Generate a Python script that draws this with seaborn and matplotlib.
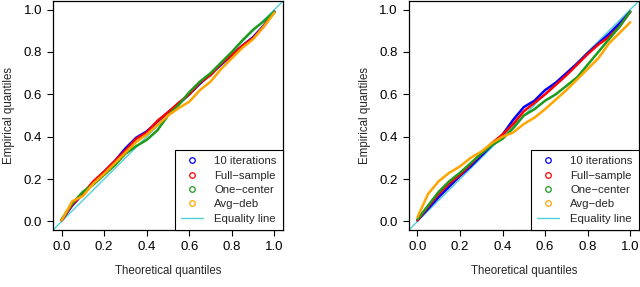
import matplotlib
matplotlib.use("Agg")
import matplotlib.pyplot as plt
import seaborn as sns
import pandas as pd
from matplotlib.lines import Line2D

# theoretical quantiles
theo = [0.0, 0.05, 0.1, 0.15, 0.2, 0.25, 0.3, 0.35, 0.4, 0.45, 0.5,
        0.55, 0.6, 0.65, 0.7, 0.75, 0.8, 0.85, 0.9, 0.95, 1.0]

# left panel empirical quantiles
left_iter = [0.005, 0.075, 0.13, 0.185, 0.235, 0.285, 0.345, 0.395, 0.425, 0.47, 0.515,
             0.555, 0.6, 0.65, 0.695, 0.74, 0.785, 0.83, 0.87, 0.925, 0.99]
left_full = [0.005, 0.08, 0.13, 0.19, 0.235, 0.285, 0.335, 0.39, 0.42, 0.475, 0.515,
             0.56, 0.6, 0.655, 0.69, 0.745, 0.785, 0.83, 0.865, 0.92, 0.99]
left_one = [0.01, 0.085, 0.14, 0.175, 0.22, 0.265, 0.32, 0.355, 0.385, 0.43, 0.5,
            0.55, 0.61, 0.66, 0.7, 0.75, 0.8, 0.855, 0.905, 0.945, 0.99]
left_avg = [0.005, 0.095, 0.12, 0.18, 0.225, 0.275, 0.325, 0.375, 0.41, 0.455, 0.5,
            0.535, 0.565, 0.62, 0.66, 0.72, 0.77, 0.82, 0.86, 0.92, 0.985]

# right panel empirical quantiles
right_iter = [0.005, 0.06, 0.115, 0.165, 0.215, 0.26, 0.31, 0.36, 0.41, 0.48, 0.54,
              0.57, 0.62, 0.655, 0.7, 0.745, 0.795, 0.84, 0.885, 0.935, 0.99]
right_full = [0.005, 0.07, 0.13, 0.18, 0.22, 0.27, 0.32, 0.37, 0.41, 0.46, 0.52,
              0.56, 0.6, 0.645, 0.69, 0.74, 0.79, 0.835, 0.87, 0.92, 0.99]
right_one = [0.01, 0.075, 0.14, 0.19, 0.23, 0.275, 0.32, 0.36, 0.39, 0.44, 0.5,
             0.53, 0.57, 0.6, 0.64, 0.68, 0.74, 0.8, 0.86, 0.92, 0.99]
right_avg = [0.02, 0.13, 0.19, 0.23, 0.26, 0.3, 0.33, 0.37, 0.4, 0.42, 0.46,
             0.49, 0.53, 0.575, 0.62, 0.67, 0.72, 0.77, 0.84, 0.89, 0.94]

labels = ["10 iterations", "Full\u2212sample", "One\u2212center", "Avg\u2212deb"]
colors = ["#0000ff", "#ff0000", "#1e9a1e", "#ffa500"]
eq_color = "#4fd0d8"

sns.set_style("white")
plt.rcParams["font.family"] = ["Liberation Sans", "DejaVu Sans"]

fig = plt.figure(figsize=(6.4, 2.87), dpi=100)
ax1 = fig.add_axes([0.083, 0.199, 0.359, 0.797])
ax2 = fig.add_axes([0.639, 0.199, 0.359, 0.797])

panels = [(ax1, [left_iter, left_full, left_one, left_avg]),
          (ax2, [right_iter, right_full, right_one, right_avg])]

ticks = [0.0, 0.2, 0.4, 0.6, 0.8, 1.0]
for ax, series in panels:
    frames = []
    for lab, vals in zip(labels, series):
        frames.append(pd.DataFrame({"theo": theo, "emp": vals, "method": lab}))
    df = pd.concat(frames)
    ax.axline((0, 0), slope=1, color=eq_color, lw=1.0, zorder=1)
    sns.lineplot(data=df, x="theo", y="emp", hue="method", palette=colors,
                 lw=1.8, ax=ax, legend=False, zorder=2)
    ax.set_xlim(-0.04, 1.04)
    ax.set_ylim(-0.04, 1.04)
    ax.set_xticks(ticks)
    ax.set_yticks(ticks)
    ax.set_xticklabels(["%.1f" % t for t in ticks])
    ax.set_yticklabels(["%.1f" % t for t in ticks])
    ax.tick_params(direction="out", length=4, width=0.8, labelsize=9.5,
                   bottom=True, left=True, pad=4, colors="black")
    for sp in ax.spines.values():
        sp.set_color("black")
        sp.set_linewidth(0.9)
    ax.set_xlabel("Theoretical quantiles", fontsize=8.3, labelpad=9)
    ax.set_ylabel("Empirical quantiles", fontsize=8.3, labelpad=6)

    handles = [Line2D([], [], ls="none", marker="o", mfc="none", mec=c,
                      ms=4, mew=0.9) for c in colors]
    handles.append(Line2D([], [], color=eq_color, lw=1.0))
    ax.legend(handles, labels + ["Equality line"], loc="lower right",
              fontsize=8.2, frameon=True, fancybox=False, edgecolor="black",
              framealpha=1, borderaxespad=0, handlelength=1.9,
              labelspacing=0.38, borderpad=0.55, handletextpad=1.0)
    ax.get_legend().get_frame().set_linewidth(0.8)

fig.savefig("out.png", dpi=100)
